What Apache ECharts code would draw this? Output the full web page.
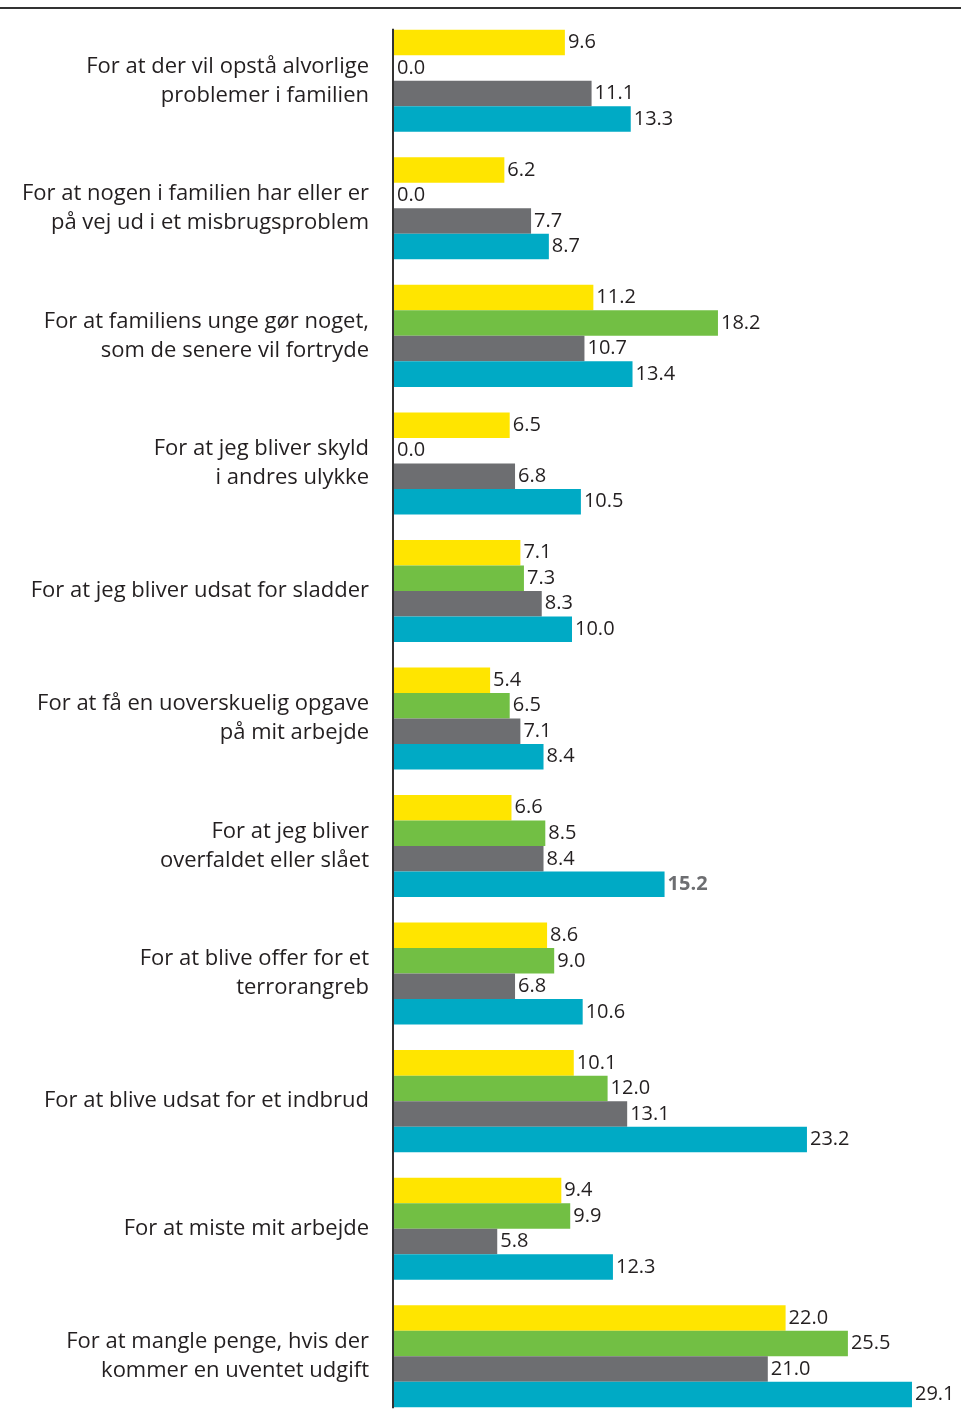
<!DOCTYPE html>
<html>
<head>
<meta charset="utf-8">
<script src="https://cdn.jsdelivr.net/npm/echarts@6/dist/echarts.min.js"></script>
<style>
  html, body { margin: 0; padding: 0; background: #ffffff; }
  #chart { width: 961px; height: 1420px; }
</style>
</head>
<body>
<div id="chart"></div>
<script>
const categories = [
  "For at der vil opstå alvorlige\nproblemer i familien",
  "For at nogen i familien har eller er\npå vej ud i et misbrugsproblem",
  "For at familiens unge gør noget,\nsom de senere vil fortryde",
  "For at jeg bliver skyld\ni andres ulykke",
  "For at jeg bliver udsat for sladder",
  "For at få en uoverskuelig opgave\npå mit arbejde",
  "For at jeg bliver\noverfaldet eller slået",
  "For at blive offer for et\nterrorangreb",
  "For at blive udsat for et indbrud",
  "For at miste mit arbejde",
  "For at mangle penge, hvis der\nkommer en uventet udgift"
];
const yellowValues = [9.6, 6.2, 11.2, 6.5, 7.1, 5.4, 6.6, 8.6, 10.1, 9.4, 22.0];
const greenValues  = [0.0, 0.0, 18.2, 0.0, 7.3, 6.5, 8.5, 9.0, 12.0, 9.9, 25.5];
const grayValues   = [11.1, 7.7, 10.7, 6.8, 8.3, 7.1, 8.4, 6.8, 13.1, 5.8, 21.0];
const cyanValues   = [13.3, 8.7, 13.4, 10.5, 10.0, 8.4, 15.2, 10.6, 23.2, 12.3, 29.1];

const seriesDefs = [
  { name: "Gul", data: yellowValues, color: "#FFE500" },
  { name: "Grøn", data: greenValues, color: "#72BF44" },
  { name: "Grå", data: grayValues, color: "#6D6E71" },
  { name: "Blå", data: cyanValues, color: "#00AAC5" }
];

const chart = echarts.init(document.getElementById("chart"), null, { renderer: "canvas" });

const labelBase = {
  show: true,
  position: "right",
  distance: 3,
  fontFamily: "Open Sans",
  fontSize: 20,
  color: "#231F20",
  formatter: p => Number(p.value).toFixed(1)
};

const series = seriesDefs.map((s, si) => ({
  name: s.name,
  type: "bar",
  barGap: "0%",
  barCategoryGap: "20%",
  itemStyle: { color: s.color },
  label: labelBase,
  data: s.data.map((v, i) => {
    // the 15.2 label is set in grey in the original
    if (si === 3 && i === 6) {
      return { value: v, label: { color: "#6D6E71", fontWeight: "bold" } };
    }
    return v;
  })
}));

const option = {
  animation: false,
  backgroundColor: "#ffffff",
  grid: { left: 394, right: 33, top: 17, bottom: 0, containLabel: false },
  xAxis: {
    type: "value",
    min: 0,
    max: 30,
    show: false,
    splitLine: { show: false }
  },
  yAxis: {
    type: "category",
    data: categories,
    inverse: true,
    axisLine: { show: false },
    axisTick: { show: false },
    axisLabel: {
      margin: 25,
      fontFamily: "Open Sans",
      fontSize: 22,
      lineHeight: 29,
      color: "#231F20",
      align: "right"
    }
  },
  series: series
};

chart.setOption(option);

// decorative lines: top rule and the value axis baseline spanning the bars
const x0 = chart.convertToPixel({ xAxisIndex: 0 }, 0);
const c0 = chart.convertToPixel({ yAxisIndex: 0 }, categories[0]);
const c1 = chart.convertToPixel({ yAxisIndex: 0 }, categories[1]);
const cN = chart.convertToPixel({ yAxisIndex: 0 }, categories[categories.length - 1]);
const band = c1 - c0;
chart.setOption({
  graphic: [
    {
      type: "line",
      shape: { x1: 0, y1: 8, x2: 961, y2: 8 },
      style: { stroke: "#333333", lineWidth: 2 },
      z: 10
    },
    {
      type: "line",
      shape: { x1: x0 - 1, y1: c0 - band * 0.4 - 1, x2: x0 - 1, y2: cN + band * 0.4 + 1 },
      style: { stroke: "#333333", lineWidth: 2 },
      z: 10
    }
  ]
});
</script>
</body>
</html>
